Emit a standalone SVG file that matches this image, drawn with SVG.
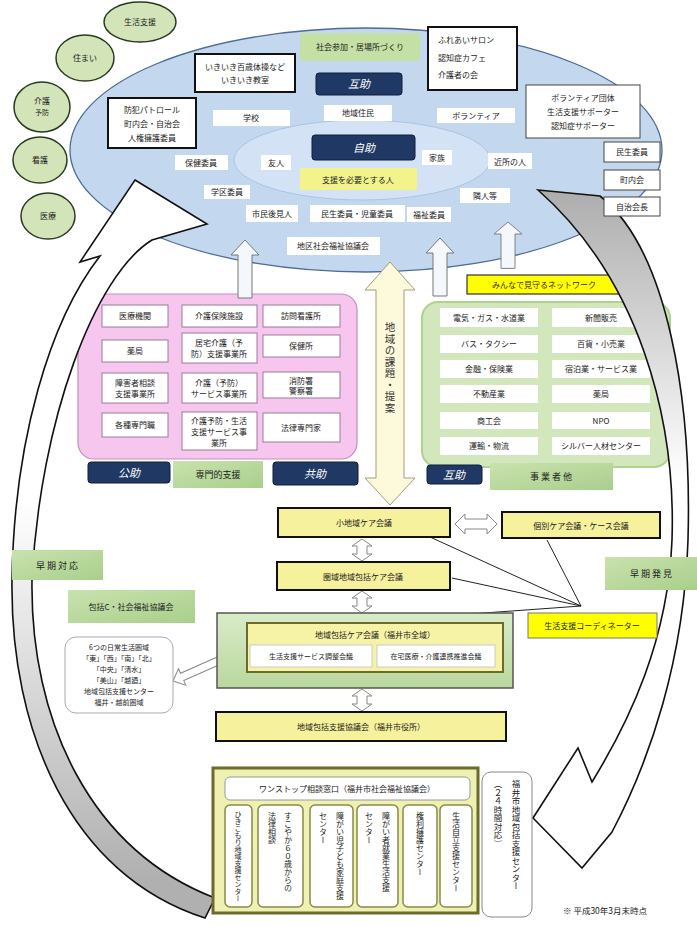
<svg xmlns="http://www.w3.org/2000/svg" width="697" height="926" viewBox="0 0 697 926">
<style>
text{font-family:"Noto Sans CJK JP","Noto Sans",sans-serif;font-size:8px;fill:#222;text-anchor:middle}
.s7{font-size:7px}
.s9{font-size:9px}
.st{text-anchor:start}
.nv{fill:#1f3864;stroke:#0f1e3a;stroke-width:1}
.nvt{fill:#fff;font-size:11px;font-style:italic}
.wb{fill:#fff}
.kb{fill:#fff;stroke:#111;stroke-width:2}
.tb{fill:#fff;stroke:#444;stroke-width:1}
.pb{fill:#fff;stroke:#9a7a9a;stroke-width:1}
.yb{fill:#f6f19c;stroke:#111;stroke-width:2}
.gl{fill:url(#gGreen)}
.cir{fill:#d3e5b8;stroke:#2a3a20;stroke-width:1.5}
.vt{writing-mode:vertical-rl;text-anchor:start}
.dbl{fill:#fff;stroke:#888;stroke-width:1}
.ln{stroke:#222;stroke-width:1;fill:none}
.upa{fill:#f4f7fb;stroke:#777;stroke-width:1}
.arw{stroke:#111;stroke-width:1.6}
</style>
<defs>
<linearGradient id="gGreen" x1="0" y1="0" x2="1" y2="1">
<stop offset="0" stop-color="#c9e2ad"/><stop offset="1" stop-color="#a9cf8c"/>
</linearGradient>
<linearGradient id="gBig" x1="0" y1="0" x2="0" y2="1">
<stop offset="0" stop-color="#d9ebc8"/><stop offset="1" stop-color="#b9d79e"/>
</linearGradient>
<linearGradient id="gL" gradientUnits="userSpaceOnUse" x1="0" y1="880" x2="0" y2="500">
<stop offset="0" stop-color="#b0b0b0"/><stop offset="1" stop-color="#ffffff"/>
</linearGradient>
<linearGradient id="gR" gradientUnits="userSpaceOnUse" x1="0" y1="190" x2="0" y2="480">
<stop offset="0" stop-color="#adadad"/><stop offset="1" stop-color="#ffffff"/>
</linearGradient>
<path id="vdbl" d="M0,0 L10,7 L5,7 L5,15 L10,15 L0,22 L-10,15 L-5,15 L-5,7 L-10,7 Z"/>
<path id="upArrow" d="M0,0 L14,15 L7,15 L7,58 L-7,58 L-7,15 L-14,15 Z"/>
</defs>
<rect width="697" height="926" fill="#fff"/>

<!-- community ellipse -->
<g id="community">
<ellipse cx="366" cy="150" rx="296" ry="122" fill="#c3d8ef" stroke="#4d6b95" stroke-width="1.3"/>
<ellipse cx="362" cy="160" rx="128" ry="40" fill="#d3e3f5" stroke="#a9c4e4" stroke-width="1"/>
</g>

<!-- five elements -->
<g id="n-seikatsu"><ellipse class="cir" cx="140" cy="22" rx="36" ry="20"/><text x="140" y="25">生活支援</text></g>
<g id="n-sumai"><ellipse class="cir" cx="85" cy="58" rx="29" ry="23"/><text x="85" y="61">住まい</text></g>
<g id="n-yobo"><ellipse class="cir" cx="42" cy="107" rx="28" ry="25"/><text x="42" y="104">介護</text><text class="s7" x="42" y="115">予防</text></g>
<g id="n-kango"><ellipse class="cir" cx="40" cy="160" rx="27" ry="23"/><text x="40" y="163">看護</text></g>
<g id="n-iryo"><ellipse class="cir" cx="48" cy="216" rx="27" ry="23"/><text x="48" y="219">医療</text></g>

<!-- items inside ellipse -->
<g id="n-shakai"><rect x="300" y="33" width="120" height="28" fill="#c5e0a5"/><text x="360" y="50">社会参加・居場所づくり</text></g>
<g id="n-ikiiki"><rect class="kb" x="195" y="54" width="100" height="38"/><text x="245" y="70">いきいき百歳体操など</text><text x="245" y="83">いきいき教室</text></g>
<g id="n-gojo1"><rect class="nv" x="316" y="73" width="86" height="22" rx="3"/><text class="nvt" x="359" y="88">互助</text></g>
<g id="n-gakko"><rect class="wb" x="213" y="110" width="77" height="16"/><text x="251" y="121">学校</text></g>
<g id="n-jumin"><rect class="wb" x="324" y="105" width="68" height="16"/><text x="358" y="116">地域住民</text></g>
<g id="n-fureai"><rect class="kb" x="428" y="27" width="89" height="63"/><text class="st" x="438" y="43">ふれあいサロン</text><text class="st" x="438" y="61">認知症カフェ</text><text class="st" x="438" y="78">介護者の会</text></g>
<g id="n-volun"><rect class="wb" x="437" y="108" width="78" height="15"/><text x="476" y="119">ボランティア</text></g>
<g id="n-voldan"><rect class="tb" x="526" y="85" width="114" height="53"/><text x="583" y="101">ボランティア団体</text><text x="583" y="115">生活支援サポーター</text><text x="583" y="129">認知症サポーター</text></g>
<g id="n-bohan"><rect class="kb" x="108" y="98" width="88" height="50"/><text x="152" y="113">防犯パトロール</text><text x="152" y="127">町内会・自治会</text><text x="152" y="141">人権擁護委員</text></g>
<g id="n-jijo"><rect class="nv" x="312" y="135" width="103" height="25" rx="3"/><text class="nvt" x="364" y="152">自助</text></g>
<g id="n-honin"><rect x="300" y="168" width="117" height="22" fill="#f3f38c"/><text x="358" y="183">支援を必要とする人</text></g>
<g id="n-hoken"><rect class="wb" x="175" y="155" width="53" height="15"/><text x="201" y="166">保健委員</text></g>
<g id="n-yujin"><rect class="wb" x="261" y="155" width="30" height="15"/><text x="276" y="166">友人</text></g>
<g id="n-kazoku"><rect class="wb" x="422" y="150" width="30" height="15"/><text x="437" y="161">家族</text></g>
<g id="n-kinjo"><rect class="wb" x="488" y="153" width="44" height="16"/><text x="510" y="165">近所の人</text></g>
<g id="n-gakku"><rect class="wb" x="204" y="185" width="46" height="14"/><text x="227" y="195">学区委員</text></g>
<g id="n-rinjin"><rect class="wb" x="460" y="188" width="50" height="15"/><text x="485" y="199">隣人等</text></g>
<g id="n-kouken"><rect class="wb" x="246" y="205" width="52" height="17"/><text x="272" y="217">市民後見人</text></g>
<g id="n-minsei"><rect class="wb" x="310" y="205" width="95" height="17"/><text x="357" y="217">民生委員・児童委員</text></g>
<g id="n-fukushi"><rect class="wb" x="407" y="207" width="44" height="15"/><text x="429" y="218">福祉委員</text></g>
<g id="n-chikushakyo"><rect class="wb" x="287" y="237" width="93" height="18"/><text x="333" y="249">地区社会福祉協議会</text></g>

<!-- public/professional box -->
<g id="n-kojo">
<rect x="78" y="294" width="279" height="165" rx="16" fill="#f6c6ef" stroke="#c48cc4" stroke-width="1.2"/>
<rect class="pb" x="102" y="305" width="66" height="22"/><text x="135" y="319">医療機関</text>
<rect class="pb" x="182" y="305" width="75" height="22"/><text x="219" y="319">介護保険施設</text>
<rect class="pb" x="263" y="305" width="77" height="22"/><text x="301" y="319">訪問看護所</text>
<rect class="pb" x="102" y="340" width="66" height="22"/><text x="135" y="354">薬局</text>
<rect class="pb" x="182" y="333" width="75" height="30"/><text x="219" y="346">居宅介護（予</text><text x="219" y="357">防）支援事業所</text>
<rect class="pb" x="263" y="335" width="77" height="22"/><text x="301" y="349">保健所</text>
<rect class="pb" x="102" y="373" width="66" height="30"/><text x="135" y="386">障害者相談</text><text x="135" y="397">支援事業所</text>
<rect class="pb" x="182" y="373" width="75" height="30"/><text x="219" y="386">介護（予防）</text><text x="219" y="397">サービス事業所</text>
<rect class="pb" x="263" y="372" width="77" height="26"/><text x="301" y="384">消防署</text><text x="301" y="394">警察署</text>
<rect class="pb" x="102" y="413" width="66" height="24"/><text x="135" y="428">各種専門職</text>
<rect class="pb" x="182" y="412" width="75" height="38"/><text x="219" y="424">介護予防・生活</text><text x="219" y="435">支援サービス事</text><text x="219" y="446">業所</text>
<rect class="pb" x="263" y="413" width="77" height="29"/><text x="301" y="431">法律専門家</text>
</g>
<g id="n-kojo-lbl"><rect class="nv" x="88" y="462" width="82" height="21" rx="3"/><text class="nvt" x="129" y="477">公助</text></g>
<g id="n-senmon"><rect class="gl" x="173" y="461" width="90" height="27"/><text class="s9" x="218" y="478">専門的支援</text></g>
<g id="n-kyojo"><rect class="nv" x="273" y="462" width="85" height="23" rx="3"/><text class="nvt" x="315" y="478">共助</text></g>

<!-- private network box -->
<g id="n-network">
<rect x="422" y="302" width="248" height="165" rx="16" fill="#d3e7bd" stroke="#aed28f" stroke-width="2"/>
<rect class="wb" x="440" y="308" width="98" height="19"/><text x="489" y="321">電気・ガス・水道業</text>
<rect class="wb" x="440" y="335" width="98" height="18"/><text x="489" y="347">バス・タクシー</text>
<rect class="wb" x="440" y="360" width="98" height="18"/><text x="489" y="372">金融・保険業</text>
<rect class="wb" x="440" y="385" width="98" height="18"/><text x="489" y="397">不動産業</text>
<rect class="wb" x="440" y="412" width="98" height="17"/><text x="489" y="424">商工会</text>
<rect class="wb" x="440" y="437" width="98" height="18"/><text x="489" y="449">運輸・物流</text>
<rect class="wb" x="552" y="308" width="98" height="19"/><text x="601" y="321">新聞販売</text>
<rect class="wb" x="552" y="335" width="98" height="18"/><text x="601" y="347">百貨・小売業</text>
<rect class="wb" x="552" y="360" width="98" height="18"/><text x="601" y="372">宿泊業・サービス業</text>
<rect class="wb" x="552" y="385" width="98" height="18"/><text x="601" y="397">薬局</text>
<rect class="wb" x="552" y="412" width="98" height="17"/><text x="601" y="424">NPO</text>
<rect class="wb" x="552" y="437" width="98" height="18"/><text x="601" y="449">シルバー人材センター</text>
</g>
<g id="n-minna"><rect x="467" y="275" width="155" height="19" fill="#ffff00" stroke="#333" stroke-width="1.2"/><text x="544" y="288" style="fill:#3a2a00">みんなで見守るネットワーク</text></g>
<g id="n-gojo2"><rect class="nv" x="427" y="465" width="55" height="19" rx="3"/><text class="nvt" x="454" y="479">互助</text></g>
<g id="n-jigyo"><rect class="gl" x="490" y="463" width="123" height="27"/><text class="s9" x="551" y="480">事 業 者 他</text></g>

<!-- curved arrows -->
<g id="n-arrow-left">
<path class="arw" fill="url(#gL)" d="M135,180 L207,224 L152,240 C95,275 40,420 32,580 C30,720 90,850 215,898 L205,918 C70,875 10,730 12,580 C14,440 50,320 100,256 L80,262 Z"/>
</g>
<g id="n-arrow-right">
<path class="arw" fill="url(#gR)" d="M538,190 L600,196 C668,250 692,400 688,540 C684,660 650,760 612,832 L582,868 L533,818 L578,748 L592,782 C630,720 668,640 672,540 C676,420 640,280 538,190 Z"/>
</g>

<!-- small boxes right of ellipse -->
<g id="n-b1"><rect class="tb" x="604" y="142" width="56" height="20"/><text x="632" y="155">民生委員</text></g>
<g id="n-b2"><rect class="tb" x="604" y="170" width="56" height="20"/><text x="632" y="183">町内会</text></g>
<g id="n-b3"><rect class="tb" x="604" y="197" width="56" height="19"/><text x="632" y="210">自治会長</text></g>

<!-- connectors -->
<g id="connectors">
<use href="#upArrow" class="upa" transform="translate(245,240)"/>
<use href="#upArrow" class="upa" transform="translate(440,238)"/>
<use href="#upArrow" class="upa" transform="translate(508,222) scale(1,0.8)"/>
<path d="M390,262 L415,290 L404,290 L404,478 L415,478 L390,505 L365,478 L376,478 L376,290 L365,290 Z" fill="#fdfadb" stroke="#a39d7a" stroke-width="1"/>
<path class="dbl" d="M455,524 L465,514 L465,519 L487,519 L487,514 L497,524 L487,534 L487,529 L465,529 L465,534 Z"/>
<use href="#vdbl" class="dbl" transform="translate(362,539)"/>
<use href="#vdbl" class="dbl" transform="translate(362,591)"/>
<use href="#vdbl" class="dbl" transform="translate(362,689)"/>
<path class="dbl" transform="translate(173,681) rotate(-24)" d="M0,0 L10,-9 L10,-4 L62,-4 L62,-9 L72,0 L62,9 L62,4 L10,4 L10,9 Z"/>
<line class="ln" x1="430" y1="537" x2="581" y2="606"/>
<line class="ln" x1="452" y1="578" x2="581" y2="606"/>
<line class="ln" x1="547" y1="540" x2="581" y2="606"/>
<line class="ln" x1="470" y1="614" x2="581" y2="606"/>
</g>
<text x="390" y="322" class="vt" style="font-size:10.5px;letter-spacing:1px;fill:#333">地域の課題・提案</text>

<!-- meetings -->
<g id="n-shochiiki"><rect class="yb" x="278" y="508" width="172" height="29"/><text x="364" y="526">小地域ケア会議</text></g>
<g id="n-kobetsu"><rect class="yb" x="502" y="512" width="158" height="26"/><text x="581" y="529">個別ケア会議・ケース会議</text></g>
<g id="n-kenniki"><rect class="yb" x="277" y="562" width="173" height="28"/><text x="363" y="580">圏域地域包括ケア会議</text></g>
<g id="n-coord"><rect x="528" y="613" width="129" height="25" fill="#ffff00" stroke="#777" stroke-width="1"/><text x="592" y="629">生活支援コーディネーター</text></g>
<g id="n-zenshi">
<rect x="217" y="613" width="296" height="75" fill="url(#gBig)" stroke="#555" stroke-width="1.5"/>
<rect x="247" y="623" width="256" height="49" fill="#f7f3a6" stroke="#6b6b2a" stroke-width="2"/>
<text x="375" y="638">地域包括ケア会議（福井市全域）</text>
<rect x="250" y="645" width="122" height="22" fill="#fff" stroke="#ccc"/><text class="s7" x="311" y="659">生活支援サービス調整会議</text>
<rect x="377" y="645" width="118" height="22" fill="#fff" stroke="#ccc"/><text class="s7" x="436" y="659">在宅医療・介護連携推進会議</text>
</g>
<g id="n-shiyakusho"><rect class="yb" x="216" y="712" width="290" height="29"/><text x="361" y="730">地域包括支援協議会（福井市役所）</text></g>

<!-- one-stop -->
<g id="n-onestop">
<rect x="213" y="768" width="265" height="145" fill="#eef1b2" stroke="#6b6b2b" stroke-width="3"/>
<rect x="225" y="777" width="245" height="23" rx="5" fill="#fff" stroke="#999"/>
<text x="347" y="792">ワンストップ相談窓口（福井市社会福祉協議会）</text>
<rect x="225" y="805" width="27" height="102" rx="5" fill="#fff" stroke="#8a8a4a" stroke-width="1.5"/>
<rect x="258" y="805" width="45" height="102" rx="5" fill="#fff" stroke="#8a8a4a" stroke-width="1.5"/>
<rect x="310" y="805" width="43" height="102" rx="5" fill="#fff" stroke="#8a8a4a" stroke-width="1.5"/>
<rect x="357" y="805" width="41" height="102" rx="5" fill="#fff" stroke="#8a8a4a" stroke-width="1.5"/>
<rect x="403" y="805" width="34" height="102" rx="5" fill="#fff" stroke="#8a8a4a" stroke-width="1.5"/>
<rect x="440" y="805" width="32" height="102" rx="5" fill="#fff" stroke="#8a8a4a" stroke-width="1.5"/>
<text class="vt" x="238" y="811" style="font-size:7px">ひきこもり地域支援センター</text>
<text class="vt" x="288" y="812">すこやか６０歳からの</text>
<text class="vt" x="272" y="812">法律相談</text>
<text class="vt" x="340" y="812">障がい児子ども家庭支援</text>
<text class="vt" x="323" y="812">センター</text>
<text class="vt" x="386" y="812">障がい者就業生活支援</text>
<text class="vt" x="369" y="812">センター</text>
<text class="vt" x="420" y="812">権利擁護センター</text>
<text class="vt" x="456" y="812">生活自立支援センター</text>
</g>
<g id="n-houkatsu"><rect x="482" y="772" width="50" height="145" rx="9" fill="#fff" stroke="#888" stroke-width="1"/><text class="vt" x="516" y="780" style="font-size:8.5px">福井市地域包括支援センター</text><text class="vt" x="498" y="780" style="font-size:8.5px">（２４時間対応）</text></g>
<text x="563" y="914" class="st" style="font-size:8.5px">※ 平成30年3月末時点</text>

<!-- left side -->
<g id="n-soki-taio"><rect class="gl" x="12" y="550" width="91" height="30"/><text class="s9" x="57" y="569">早 期 対 応</text></g>
<g id="n-hokatsuC"><rect class="gl" x="68" y="590" width="127" height="33"/><text x="131" y="610">包括C・社会福祉協議会</text></g>
<g id="n-kenniki6"><rect x="65" y="637" width="108" height="76" rx="11" fill="#fff" stroke="#aaa" stroke-width="1"/>
<text class="s7" x="119" y="650">6つの日常生活圏域</text>
<text class="s7" x="119" y="661">「東」「西」「南」「北」</text>
<text class="s7" x="119" y="672">「中央」「清水」</text>
<text class="s7" x="119" y="683">「美山」「越廼」</text>
<text class="s7" x="119" y="694">地域包括支援センター</text>
<text class="s7" x="119" y="705">福井・越前圏域</text>
</g>
<g id="n-soki-hakken"><rect class="gl" x="605" y="557" width="92" height="33"/><text class="s9" x="651" y="577">早 期 発 見</text></g>
</svg>
